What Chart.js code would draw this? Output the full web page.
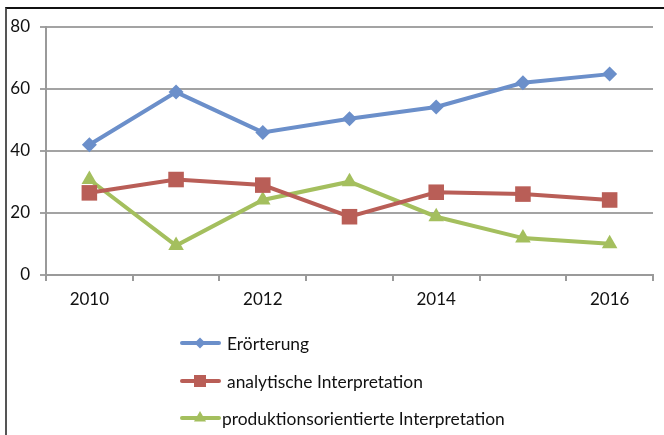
<!DOCTYPE html>
<html>
<head>
<meta charset="utf-8">
<script src="https://cdn.jsdelivr.net/npm/chart.js@4.4.1/dist/chart.umd.min.js"></script>
<style>
  html, body { margin: 0; padding: 0; background: #fff; }
  #wrap { position: relative; width: 664px; height: 435px; overflow: hidden; }
  #frame { position: absolute; left: 5px; top: 7px; width: 700px; height: 500px;
           border-left: 2px solid #555; border-top: 2px solid #111; box-sizing: border-box; }
  canvas { position: absolute; left: 0; top: 0; }
</style>
</head>
<body>
<div id="wrap">
  <div id="frame"></div>
  <canvas id="c" width="664" height="435"></canvas>
</div>
<script>
const categories = ['2010', '2011', '2012', '2013', '2014', '2015', '2016'];
const erorterung = [42, 59, 46, 50.4, 54.2, 62, 64.8];
const analytisch = [26.5, 30.8, 29, 18.8, 26.7, 26.1, 24.2];
const produktion = [30.8, 9.5, 24.2, 30.1, 18.8, 11.9, 10.1];
const yTicks = [0, 20, 40, 60, 80];

const FONT = 'Lato, "Open Sans", sans-serif';

const verticalLegend = {
  id: 'verticalLegend',
  afterDraw(chart) {
    const ctx = chart.ctx;
    const rows = [343, 381, 418];
    const textX = [227, 227, 222];
    const sizes = [5.5, 8.5, 7];
    ctx.save();
    chart.data.datasets.forEach((ds, i) => {
      const y = rows[i];
      ctx.strokeStyle = ds.borderColor;
      ctx.lineWidth = 4;
      ctx.lineCap = 'round';
      ctx.beginPath();
      ctx.moveTo(182, y);
      ctx.lineTo(219, y);
      ctx.stroke();
      ctx.fillStyle = ds.backgroundColor;
      ctx.strokeStyle = ds.backgroundColor;
      ctx.lineWidth = 0.01;
      if (Chart.helpers && Chart.helpers.drawPoint) {
        Chart.helpers.drawPoint(ctx, {pointStyle: ds.pointStyle, radius: sizes[i], rotation: 0, borderWidth: 0}, 200, y);
      }
      ctx.fillStyle = '#111';
      ctx.font = '17.4px ' + FONT;
      ctx.textAlign = 'left';
      ctx.textBaseline = 'middle';
      ctx.fillText(ds.label, textX[i], y + 1);
    });
    ctx.restore();
  }
};

new Chart(document.getElementById('c'), {
  type: 'line',
  data: {
    labels: categories,
    datasets: [
      { label: 'Erörterung', data: erorterung, borderColor: '#6b8fca', backgroundColor: '#6b8fca',
        pointStyle: 'rectRot', pointRadius: 7.5, pointHoverRadius: 7.5, borderWidth: 4, pointBorderWidth: 0 },
      { label: 'analytische Interpretation', data: analytisch, borderColor: '#b95e57', backgroundColor: '#b95e57',
        pointStyle: 'rect', pointRadius: 11, pointHoverRadius: 11, borderWidth: 4, pointBorderWidth: 0 },
      { label: 'produktionsorientierte Interpretation', data: produktion, borderColor: '#a4bf5e', backgroundColor: '#a4bf5e',
        pointStyle: 'triangle', pointRadius: 9, pointHoverRadius: 9, borderWidth: 4, pointBorderWidth: 0 }
    ]
  },
  options: {
    responsive: false,
    animation: false,
    devicePixelRatio: 1,
    layout: { padding: { top: 27, right: 6, bottom: 125, left: 0 } },
    plugins: { legend: { display: false }, tooltip: { enabled: false } },
    elements: { line: { tension: 0 } },
    scales: {
      x: {
        offset: true,
        grid: { offset: true, drawOnChartArea: false, drawTicks: true, tickLength: 6, color: '#9a9a9a', lineWidth: 2 },
        border: { color: '#9a9a9a', width: 2 },
        ticks: {
          autoSkip: false, maxRotation: 0, padding: 8, color: '#111',
          font: { family: FONT, size: 17 },
          callback: function (v, i) { return i % 2 === 0 ? this.getLabelForValue(v) : ''; }
        },
        afterFit(scale) { scale.height = 35; scale.paddingLeft = 0; scale.paddingRight = 0; }
      },
      y: {
        min: 0, max: 80,
        afterBuildTicks(scale) { scale.ticks = yTicks.map(v => ({ value: v })); },
        grid: { color: '#a3a3a3', lineWidth: 2, drawTicks: true, tickLength: 6 },
        border: { color: '#9a9a9a', width: 2 },
        ticks: { padding: 10, color: '#111', font: { family: FONT, size: 17 } },
        afterFit(scale) { scale.width = 46; }
      }
    }
  },
  plugins: [verticalLegend]
});
</script>
</body>
</html>
